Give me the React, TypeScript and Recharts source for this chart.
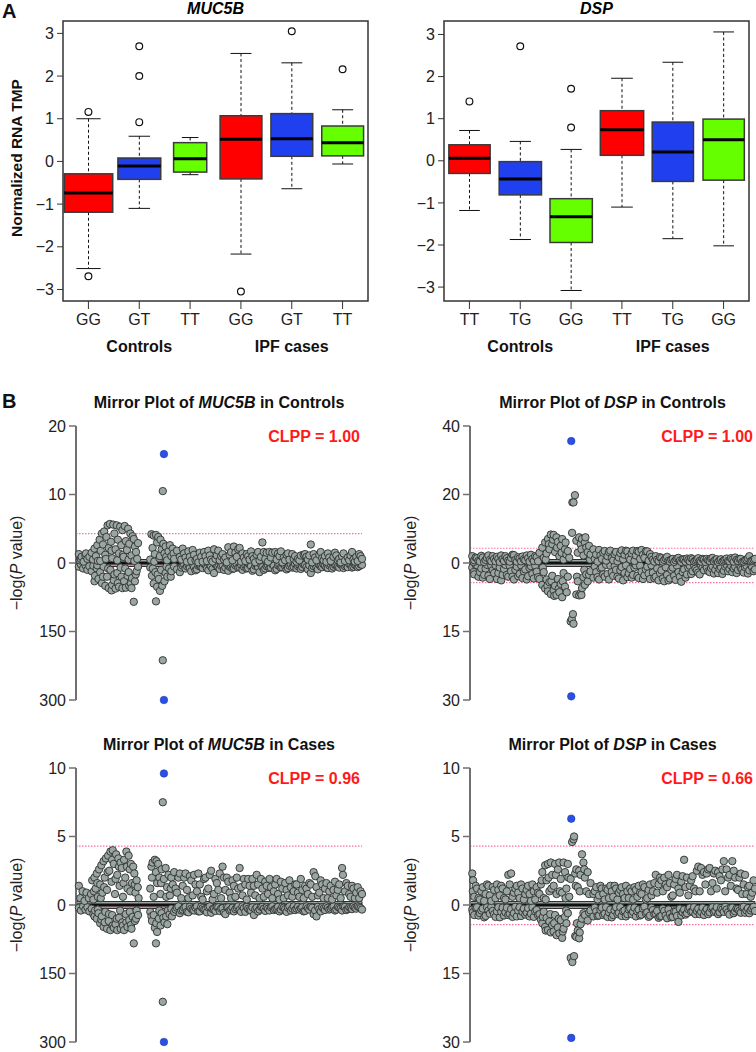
import React from "react";
import {
  ComposedChart,
  ScatterChart,
  Bar,
  Scatter,
  XAxis,
  YAxis,
  ReferenceArea,
  ReferenceLine,
} from "recharts";

const FONT = "'Liberation Sans', Arial, Helvetica, sans-serif";

const COLORS = {
  red: "#ff0000",
  blue: "#2040f0",
  green: "#66ff00",
  point: "#99a6a1",
  pointEdge: "#2f2f2f",
  lead: "#2a50e8",
  clpp: "#ff1a1a",
  axis: "#707070",
  threshold: "#ff6f98",
};

const BOX_COLORS = [COLORS.red, COLORS.blue, COLORS.green];

// ---------- panel A: expression by genotype ----------
const GROUPS = ["Controls", "IPF cases"];

const MUC5B_GENOTYPES = ["GG", "GT", "TT", "GG", "GT", "TT"];
const MUC5B_LOW = [-2.51, -1.1, -0.31, -2.17, -0.64, -0.06];
const MUC5B_Q1 = [-1.19, -0.42, -0.25, -0.41, 0.12, 0.13];
const MUC5B_MEDIAN = [-0.74, -0.11, 0.06, 0.52, 0.53, 0.44];
const MUC5B_Q3 = [-0.29, 0.08, 0.44, 1.07, 1.12, 0.83];
const MUC5B_HIGH = [1.0, 0.59, 0.56, 2.53, 2.31, 1.21];
const MUC5B_OUTLIERS = [[1.16, -2.69], [2.7, 2.0, 0.92], [], [-3.05], [3.05], [2.16]];

const DSP_GENOTYPES = ["TT", "TG", "GG", "TT", "TG", "GG"];
const DSP_LOW = [-1.18, -1.87, -3.08, -1.1, -1.85, -2.02];
const DSP_Q1 = [-0.3, -0.81, -1.94, 0.13, -0.49, -0.46];
const DSP_MEDIAN = [0.06, -0.43, -1.33, 0.74, 0.21, 0.5];
const DSP_Q3 = [0.38, -0.02, -0.9, 1.19, 0.92, 0.99];
const DSP_HIGH = [0.72, 0.46, 0.27, 1.96, 2.34, 3.06];
const DSP_OUTLIERS = [[1.41], [2.72], [1.71, 0.79], [], [], []];

// box widths relative to the category band (varwidth look)
const MUC5B_BOX_FRAC = [0.95, 0.84, 0.65, 0.82, 0.82, 0.82];
const DSP_BOX_FRAC = [0.81, 0.83, 0.83, 0.85, 0.81, 0.81];

// ---------- panel B: mirror plots, [position %, -log P] ----------
const MUC5B_CTRL_GWAS: [number, number][] = [
  [0.5, 1.3], [0.8, 0.4], [1.2, 0.6], [1.5, 0.9], [2.2, 0.2], [2.8, 1.1], [3, 1.4], [3.5, 0.6], [4.2, 0.9],
  [5, 1.5], [5.5, 0.5], [6, 2.1], [6.5, 1.0], [7, 2.6], [7.2, 0.3], [7.8, 3.4], [8, 0.3], [8.2, 1.8],
  [8.6, 4.3], [9, 2.7], [9.4, 4.6], [9.8, 1.2], [10, 0.6], [10.2, 3.8], [10.6, 5.5], [11, 2.2], [11.4, 5.7],
  [11.8, 3.1], [12, 1.8], [12.2, 0.7], [12.6, 5.6], [13, 4.3], [13.4, 2.0], [13.8, 5.5], [14, 0.4], [14.2, 3.4],
  [14.6, 1.4], [15, 5.3], [15.4, 2.6], [15.8, 4.8], [16, 1.2], [16.2, 0.9], [16.6, 5.4], [17, 3.2],
  [17.4, 1.9], [17.8, 5.0], [18, 0.5], [18.2, 2.8], [18.6, 4.3], [19, 1.1], [19.4, 3.9], [19.8, 3.5],
  [20, 0.3], [20.2, 2.4], [20.6, 1.6], [21, 0.6], [21.3, 2.9],
  [25.6, 0.5], [26, 4.2], [26.4, 2.2], [26.8, 4.0], [27, 0.2], [27.2, 1.3], [27.6, 4.1], [28, 3.0],
  [28.4, 3.8], [28.8, 0.7], [29, 1.0], [29.2, 3.4], [29.6, 2.0], [30, 10.5], [30.2, 2.8], [30.6, 1.4],
  [31, 2.4], [31.2, 0.9], [31.5, 0.4], [32, 1.7], [32.5, 2.6], [33, 1.0], [33.5, 2.1], [33.8, 1.4],
  [34, 0.6], [35, 1.8], [36, 0.9],
  [36.5, 0.5], [37, 2.1], [37.5, 1.4], [38, 0.8], [38.5, 0.2], [39, 1.7], [39.5, 0.9], [40, 0.3],
  [40.5, 1.9], [41, 1.2], [41.5, 0.4], [42, 0.6], [42.5, 0.1], [43, 1.5], [43.5, 0.9], [44, 0.2],
  [44.5, 1.6], [45, 1.0], [45.5, 0.3], [46, 1.8], [46.5, 1.1], [47, 0.5], [47.5, 0.2], [48, 2.0],
  [48.5, 0.6], [49, 1.1], [49.5, 1.8], [50, 0.4], [50.5, 1.0], [51, 1.3], [51.5, 0.5], [52, 0.8],
  [52.5, 0.1], [53, 2.3], [53.5, 1.2], [54, 1.6], [54.5, 0.4], [55, 2.4], [55.5, 1.5], [56, 0.9],
  [56.5, 2.0], [57, 2.2], [57.5, 0.2], [58, 1.4], [58.5, 0.8], [59, 0.3], [59.5, 1.3], [60, 1.0],
  [60.5, 0.5], [61, 1.7], [61.5, 1.0], [62, 0.6], [62.5, 0.1], [63, 1.2], [63.5, 1.6], [64, 0.4],
  [64.5, 0.9], [65, 3.0], [65.5, 1.6], [66, 0.6], [66.5, 1.5], [67, 0.2], [67.5, 1.6], [68, 0.8],
  [68.5, 1.5], [69.5, 1.6], [70, 0.5], [70.5, 1.4], [71, 1.0], [71.5, 1.7], [72, 0.1], [72.5, 0.8],
  [73, 0.4], [73.5, 1.2], [74, 1.4], [74.5, 0.5], [75.5, 1.3], [76, 0.6], [76.5, 1.0], [77, 0.2],
  [77.5, 0.6], [78, 0.4], [78.5, 1.1], [79.5, 1.2], [80, 1.3], [80.5, 0.9], [81, 0.5], [81.5, 1.1],
  [82, 2.7], [82.5, 0.1], [83, 1.3], [83.5, 0.8], [84, 0.4], [85, 1.2], [85.5, 1.6], [86, 0.7],
  [86.5, 0.4], [87, 1.0], [87.5, 0.2], [88, 1.4], [88.5, 0.8], [89, 0.3], [90, 0.9], [90.5, 1.5],
  [91, 1.1], [91.5, 0.4], [92, 0.6], [92.5, 0.1], [93, 1.0], [93.5, 1.4], [94, 0.3], [95, 0.8],
  [95.5, 0.4], [96, 1.1], [96.5, 1.6], [97, 0.5], [97.5, 0.2], [98, 0.9], [98.5, 0.3], [99, 1.3],
  [99.5, 1.0], [100, 0.6],
];
const MUC5B_CTRL_EQTL: [number, number][] = [
  [0.5, 8], [1.2, 3], [2, 12], [2.8, 5], [3.5, 15], [4.2, 7],
  [5, 18], [5.6, 6], [6, 40], [6.2, 28], [6.8, 12], [7, 5], [7.4, 35], [8, 20], [8.6, 44], [9, 30],
  [9.2, 8], [9.8, 50], [10.4, 30], [10.8, 12], [11, 55], [11.6, 15], [12, 60], [12.2, 48], [12.8, 38],
  [13, 25], [13.4, 56], [14, 22], [14.2, 44], [14.6, 52], [15.2, 10], [15.5, 30], [15.8, 55],
  [16.4, 40], [16.8, 12], [17, 54], [17.6, 28], [18, 20], [18.2, 50], [18.8, 45], [19, 55],
  [19.2, 33], [19.8, 85], [20.2, 40], [20.5, 25], [20.8, 18], [21.3, 8],
  [25.6, 10], [26.2, 28], [26.5, 12], [26.8, 45], [27.4, 20], [27.6, 84], [28, 52], [28.2, 25],
  [28.6, 35], [29, 61], [29.4, 15], [29.8, 50], [30, 213], [30.6, 40], [31, 22], [31.3, 8],
  [31.6, 30], [32.2, 12], [32.8, 30], [33, 18], [34, 8], [35, 14],
  [36, 20], [36.5, 10], [37, 6], [37.5, 3], [38, 12], [38.5, 7], [39, 4], [39.5, 11], [40, 18],
  [40.5, 2], [41, 9], [41.5, 16], [42, 14], [42.5, 6], [43, 5], [43.5, 9], [44, 11], [44.5, 2],
  [45, 3], [45.5, 12], [46, 16], [46.5, 4], [47, 8], [47.5, 13], [48, 22], [48.5, 3], [49, 6],
  [49.5, 9], [50, 13], [50.5, 6], [51, 4], [51.5, 15], [52, 10], [52.5, 2], [53, 17], [53.5, 8],
  [54, 7], [54.5, 13], [55, 12], [55.5, 5], [56, 3], [56.5, 10], [57, 9], [57.5, 4], [58, 15],
  [58.5, 8], [59, 5], [59.5, 12], [60, 11], [60.5, 3], [61, 7], [61.5, 17], [62, 14], [62.5, 6],
  [63, 4], [63.5, 9], [64, 20], [64.5, 3], [65, 9], [65.5, 15], [66, 12], [66.5, 7], [67, 5],
  [67.5, 11], [68, 10], [68.5, 3], [69, 6], [69.5, 16], [70, 13], [70.5, 5], [71, 4], [71.5, 10],
  [72, 9], [72.5, 3], [73, 7], [73.5, 14], [74, 11], [74.5, 6], [75, 3], [75.5, 10], [76, 8],
  [76.5, 2], [77, 12], [77.5, 7], [78, 5], [78.5, 13], [79, 9], [79.5, 3], [80, 4], [80.5, 9],
  [81, 14], [81.5, 5], [82, 22], [82.5, 11], [83, 7], [83.5, 3], [84, 10], [84.5, 14], [85, 4],
  [85.5, 7], [86, 9], [86.5, 3], [87, 6], [87.5, 10], [88, 11], [88.5, 5], [89, 3], [89.5, 12],
  [90, 8], [90.5, 4], [91, 5], [91.5, 8], [92, 10], [92.5, 3], [93, 4], [93.5, 11], [94, 7],
  [94.5, 5], [95, 9], [95.5, 2], [96, 3], [96.5, 10], [97, 8], [97.5, 4], [98, 5], [98.5, 9],
  [99, 7], [99.5, 3], [100, 4],
];
const MUC5B_CTRL_LEAD = [30.4, 15.9, 300];

const DSP_CTRL_GWAS: [number, number][] = [
  [0.3, 2.0], [0.8, 0.3], [1, 0.8], [1.5, 1.6], [2, 1.4], [2.5, 0.6], [3, 0.4], [3.5, 2.1], [4, 1.6],
  [4.5, 0.3], [5, 0.9], [5.5, 1.5], [6, 2.2], [6.5, 0.9], [7, 0.5], [7.5, 2.0], [8, 1.2], [8.5, 0.5],
  [9, 1.8], [9.5, 1.2], [10, 0.3], [10.5, 2.2], [11, 1.1], [11.5, 0.6], [12, 2.0], [12.5, 1.4],
  [13, 0.7], [13.5, 0.4], [14, 1.5], [14.5, 2.4], [15, 2.3], [15.5, 0.9], [16, 0.4], [16.5, 1.7],
  [17, 1.3], [17.5, 0.5], [18, 1.9], [18.5, 1.1], [19, 0.8], [19.5, 2.2], [20, 1.4], [20.5, 0.4],
  [21, 2.4], [21.5, 1.2], [22, 0.6], [22.5, 2.0], [23, 1.7], [23.5, 0.5],
  [24, 3.0], [25, 4.5], [25.5, 1.5], [26, 6.0], [26.2, 1.0], [26.5, 2.8], [27, 7.0], [27.3, 5.5],
  [27.5, 4.0], [28, 8.3], [28.5, 5.5], [28.8, 6.8], [29, 8.2], [29.5, 3.2], [30, 7.5], [30.2, 4.5],
  [30.5, 6.2], [31, 2.0], [31.5, 5.0], [31.8, 3.0], [32, 7.0], [32.5, 1.0], [33, 4.0], [33.2, 6.0],
  [33.5, 2.5], [34, 3.5], [34.5, 1.5], [35.5, 8.8], [35.6, 17.7], [36, 17.7], [36.5, 19.8],
  [37, 6.5], [37.5, 3.0], [38, 7.5], [38.5, 5.5], [38.8, 4.0], [39, 7.0], [39.5, 2.2], [40, 6.0],
  [40.2, 7.5], [40.5, 4.5], [41, 3.2], [41.5, 5.0], [41.8, 1.0], [42, 2.5], [43, 4.0],
  [43.5, 1.2], [44, 2.5], [44.5, 0.4], [45, 3.8], [45.5, 2.2], [46, 1.2], [46.5, 3.0], [47, 3.5],
  [47.5, 0.7], [48, 2.0], [48.5, 3.2], [49, 3.6], [49.5, 1.4], [50, 0.8], [50.5, 2.6], [51, 3.2],
  [51.5, 0.5], [52, 1.6], [52.5, 2.9], [53, 3.7], [53.5, 1.1], [54, 2.4], [54.5, 3.6], [55, 3.4],
  [55.5, 1.8], [56, 1.0], [56.5, 2.8], [57, 3.6], [57.5, 0.6], [58, 2.2], [58.5, 3.5], [59, 3.3],
  [59.5, 1.2], [60, 3.8], [60.5, 2.4], [61, 1.5], [61.5, 3.4], [62, 3.4], [62.5, 0.7], [63, 2.6],
  [63.5, 1.8], [64, 1.0], [64.5, 0.4], [65, 2.0], [65.5, 1.0], [66, 0.6], [66.5, 1.7], [67, 1.4],
  [67.5, 0.4], [68, 0.9], [68.5, 1.4], [69, 1.8], [69.5, 0.6], [70, 0.4], [70.5, 1.0], [71, 1.2],
  [71.5, 0.3], [72, 0.8], [72.5, 1.3], [73, 1.5], [73.5, 0.7], [74, 0.3], [74.5, 1.1], [75, 1.0],
  [75.5, 0.4], [76, 1.3], [76.5, 0.9], [77, 0.5], [77.5, 1.4], [78, 1.1], [78.5, 0.4], [79, 0.7],
  [79.5, 1.0], [80, 1.4], [80.5, 0.6], [81, 0.4], [81.5, 1.2], [82, 1.0], [82.5, 0.3], [83, 1.2],
  [83.5, 0.8], [84, 0.6], [84.5, 1.3], [85, 1.5], [85.5, 0.5], [86, 0.9], [86.5, 1.1], [87, 0.3],
  [87.5, 0.8], [88, 1.1], [88.5, 0.4], [89, 0.7], [89.5, 1.0], [90, 1.3], [90.5, 0.6], [91, 0.5],
  [91.5, 1.4], [92, 1.0], [92.5, 0.4], [93, 1.6], [93.5, 0.9], [94, 0.6], [94.5, 1.2], [95, 1.2],
  [95.5, 0.3], [96, 0.4], [96.5, 0.8], [97, 1.0], [97.5, 1.4], [98, 2.0], [98.5, 0.5], [99, 0.7],
  [99.5, 1.0], [100, 1.2],
];
const DSP_CTRL_EQTL: [number, number][] = [
  [0.3, 1.0], [0.8, 2.0], [1, 2.5], [1.5, 0.4], [2, 0.5], [2.5, 3.0], [3, 2.0], [3.5, 1.2], [4, 3.2],
  [4.5, 2.6], [5, 1.2], [5.5, 0.4], [6, 2.8], [6.5, 3.5], [7, 0.6], [7.5, 1.6], [8, 2.2], [8.5, 0.5],
  [9, 3.5], [9.5, 2.2], [10, 1.0], [10.5, 3.8], [11, 2.6], [11.5, 1.3], [12, 0.4], [12.5, 2.6],
  [13, 3.0], [13.5, 0.6], [14, 1.8], [14.5, 3.0], [15, 3.6], [15.5, 1.5], [16, 0.8], [16.5, 2.9],
  [17, 2.4], [17.5, 0.5], [18, 3.3], [18.5, 1.8], [19, 1.4], [19.5, 3.6], [20, 2.9], [20.5, 1.1],
  [21, 0.7], [21.5, 2.4], [22, 3.4], [22.5, 0.6], [23, 1.9], [23.5, 3.1],
  [24, 3.5], [25, 4.8], [25.2, 1.0], [25.5, 2.0], [26, 5.6], [26.5, 3.6], [26.8, 5.0], [27, 6.2],
  [27.5, 4.2], [28, 6.8], [28.2, 4.0], [28.5, 2.8], [29, 6.0], [29.2, 7.2], [29.5, 5.0], [30, 7.0],
  [30.5, 3.5], [30.8, 5.6], [31, 6.4], [31.5, 4.6], [32, 7.5], [32.2, 4.0], [32.5, 2.2], [33, 5.2],
  [33.6, 6.4], [34, 3.0], [35, 12.8], [35.4, 12.3], [35.8, 11.2], [36, 13.3], [37, 6.9],
  [37.2, 3.0], [37.5, 4.0], [38, 7.1], [38.5, 6.6], [38.8, 7.0], [39, 5.5], [39.5, 3.1],
  [39.8, 1.5], [40, 4.8], [40.5, 2.5], [41, 4.0], [41.5, 2.6], [42, 1.8], [43, 3.2],
  [43.5, 0.8], [44, 2.0], [44.5, 3.1], [45, 3.6], [45.5, 1.2], [46, 1.0], [46.5, 2.5], [47, 3.0],
  [47.5, 0.4], [48, 2.4], [48.5, 3.6], [49, 0.6], [49.5, 2.0], [50, 2.8], [50.5, 0.7], [51, 1.5],
  [51.5, 3.0], [52, 3.4], [52.5, 1.6], [53, 0.9], [53.5, 3.8], [54, 2.2], [54.5, 0.5], [55, 3.1],
  [55.5, 2.3], [56, 1.3], [56.5, 3.2], [57, 2.6], [57.5, 1.0], [58, 0.5], [58.5, 2.8], [59, 3.3],
  [59.5, 0.6], [60, 1.9], [60.5, 3.5], [61, 2.7], [61.5, 1.4], [62, 0.8], [62.5, 2.3], [63, 3.5],
  [63.5, 0.5], [64, 2.1], [64.5, 3.3], [65, 3.0], [65.5, 1.2], [66, 3.8], [66.5, 2.2], [67, 1.6],
  [67.5, 3.4], [68, 4.0], [68.5, 0.9], [69, 2.6], [69.5, 3.8], [70, 3.4], [70.5, 1.5], [71, 1.0],
  [71.5, 2.8], [72, 3.7], [72.5, 0.6], [73, 2.0], [73.5, 3.0], [74, 4.1], [74.5, 2.0], [75, 1.4],
  [75.5, 3.2], [76, 2.5], [76.5, 1.0], [77, 0.6], [77.5, 2.4], [78, 1.8], [78.5, 0.4], [79, 1.2],
  [79.5, 1.6], [80, 2.1], [80.5, 2.5], [81, 0.5], [81.5, 1.0], [82, 1.6], [82.5, 0.4], [83, 1.0],
  [83.5, 1.8], [84, 2.0], [84.5, 1.1], [85, 0.7], [85.5, 2.3], [86, 1.5], [86.5, 0.5], [87, 2.2],
  [87.5, 1.3], [88, 0.9], [88.5, 2.4], [89, 1.7], [89.5, 0.8], [90, 0.4], [90.5, 1.8], [91, 1.3],
  [91.5, 0.5], [92, 2.0], [92.5, 1.2], [93, 0.8], [93.5, 2.2], [94, 1.5], [94.5, 0.4], [95, 1.1],
  [95.5, 1.4], [96, 2.1], [96.5, 0.9], [97, 0.6], [97.5, 2.3], [98, 1.6], [98.5, 0.5], [99, 0.9],
  [99.5, 1.8], [100, 1.4],
];
const DSP_CTRL_LEAD = [35.2, 35.6, 29.2];

const MUC5B_CASE_GWAS: [number, number][] = [
  [0.5, 1.4], [1, 0.5], [1.8, 1.0], [2.5, 0.3], [3.2, 0.9], [4, 0.5],
  [4.8, 0.8], [5.2, 1.8], [5.6, 0.4], [5.8, 1.0], [6, 2.0], [6.4, 1.2], [6.8, 2.3], [7, 1.6],
  [7.2, 0.6], [7.6, 2.6], [8, 1.5], [8.2, 0.5], [8.4, 2.9], [8.8, 0.9], [9.2, 3.2], [9.4, 1.3],
  [9.6, 2.0], [10, 3.4], [10.4, 1.1], [10.6, 2.4], [10.8, 3.6], [11.2, 2.5], [11.6, 3.9], [12, 1.7],
  [12.2, 3.3], [12.4, 4.0], [12.8, 3.0], [13.2, 0.8], [13.4, 1.9], [13.6, 3.7], [14, 2.2],
  [14.4, 3.4], [14.6, 2.8], [14.8, 1.4], [15.2, 3.1], [15.6, 2.7], [16, 0.6], [16.2, 1.6],
  [16.4, 3.3], [16.8, 2.0], [17.2, 3.9], [17.4, 2.8], [17.6, 1.2], [18, 3.6], [18.4, 2.6],
  [18.6, 1.0], [18.8, 3.0], [19.2, 1.6], [19.6, 2.8], [20, 2.3], [20.2, 1.5], [20.4, 0.9],
  [20.8, 1.8], [21.2, 1.3], [21.5, 0.5],
  [25.6, 1.2], [26, 2.8], [26.2, 2.0], [26.4, 3.1], [26.8, 0.6], [27.2, 3.3], [27.6, 2.4],
  [27.8, 3.2], [28, 1.6], [28.4, 3.0], [28.8, 2.0], [29.2, 0.8], [29.4, 1.6], [29.6, 2.6],
  [30, 7.5], [30.4, 1.9], [31, 2.7], [31.2, 0.6], [31.5, 1.3], [32, 2.2], [32.5, 0.7], [32.8, 1.2],
  [33, 2.0], [33.5, 1.5],
  [34, 2.4], [34.5, 1.2], [35, 0.9], [35.5, 2.0], [36, 2.3], [36.5, 0.5], [37, 1.4], [37.5, 2.0],
  [38, 2.3], [38.5, 1.1], [39, 0.5], [39.5, 2.1], [40, 1.8], [40.5, 0.7], [41, 2.2], [41.5, 1.5],
  [42, 1.0], [42.5, 2.3], [43, 1.5], [43.5, 0.6], [44, 0.4], [44.5, 1.9], [45, 2.0], [45.5, 1.0],
  [46, 1.2], [46.5, 2.2], [47, 2.5], [47.5, 0.4], [48, 0.8], [48.5, 1.9], [49, 1.6], [49.5, 1.1],
  [50, 2.3], [50.5, 0.5], [51, 2.8], [51.5, 2.0], [52, 1.1], [52.5, 2.0], [53, 1.7], [53.5, 0.9],
  [54, 0.5], [54.5, 1.8], [55, 1.4], [55.5, 0.6], [56, 2.0], [56.5, 1.2], [57, 2.7], [57.5, 1.3],
  [58, 0.7], [58.5, 1.9], [59, 1.5], [59.5, 0.4], [60, 1.9], [60.5, 1.4], [61, 0.9], [61.5, 1.9],
  [62, 1.4], [62.5, 0.7], [63, 2.2], [63.5, 1.5], [64, 0.5], [64.5, 1.9], [65, 1.2], [65.5, 0.6],
  [66, 1.7], [66.5, 1.4], [67, 0.8], [67.5, 1.9], [68, 1.3], [68.5, 0.5], [69, 1.0], [69.5, 1.5],
  [70, 1.9], [70.5, 0.8], [71, 0.4], [71.5, 1.7], [72, 1.2], [72.5, 0.5], [73, 1.6], [73.5, 1.1],
  [74, 0.7], [74.5, 1.8], [75, 1.3], [75.5, 0.6], [76, 1.0], [76.5, 1.5], [77, 1.5], [77.5, 0.9],
  [78, 0.6], [78.5, 1.9], [79, 1.1], [79.5, 0.5], [80, 1.4], [80.5, 1.2], [81, 0.8], [81.5, 1.6],
  [82, 1.5], [82.5, 0.6], [83, 2.4], [83.6, 2.1], [84, 1.3], [84.5, 0.7], [85, 0.9], [85.5, 1.8],
  [86, 1.5], [86.5, 0.5], [87, 1.2], [87.5, 1.6], [88, 0.5], [88.5, 1.0], [89, 1.4], [89.5, 0.4],
  [90, 1.1], [90.5, 1.7], [91, 0.7], [91.5, 1.1], [92, 1.5], [92.5, 0.5], [93, 2.7], [93.3, 2.2],
  [94, 1.0], [94.5, 1.6], [95, 1.4], [95.5, 0.8], [96, 0.6], [96.5, 1.4], [97, 1.2], [97.5, 0.5],
  [98, 0.9], [98.5, 1.3], [99, 0.5], [99.5, 1.0], [100, 0.8],
];
const MUC5B_CASE_EQTL: [number, number][] = [
  [0.5, 6], [1.2, 12], [2, 3], [2.8, 10], [3.5, 5], [4.2, 14],
  [5, 8], [5.6, 20], [6, 25], [6.2, 12], [6.8, 30], [7.2, 10], [7.4, 18], [8, 40], [8.4, 32],
  [8.6, 25], [9.2, 48], [9.6, 38], [9.8, 15], [10.4, 52], [11, 35], [11.1, 20], [11.6, 55],
  [12.2, 22], [12.4, 45], [12.8, 50], [13.4, 42], [13.8, 30], [14, 55], [14.6, 28], [15, 12],
  [15.2, 52], [15.8, 38], [16, 45], [16.4, 55], [17, 20], [17.2, 38], [17.6, 48], [18.2, 33],
  [18.4, 15], [18.8, 44], [19, 52], [19.4, 26], [19.8, 84], [20.2, 35], [20.6, 30], [20.8, 12],
  [21.3, 22],
  [25.6, 15], [26, 25], [26.2, 35], [26.8, 22], [27.2, 50], [27.6, 84], [27.7, 40], [28, 59],
  [28.6, 30], [28.8, 12], [29.2, 45], [29.6, 18], [30, 212], [30.2, 28], [30.6, 38], [31.2, 25],
  [31.6, 42], [31.8, 12], [32.4, 20], [33, 8], [33.2, 25],
  [34, 15], [34.5, 10], [35, 6], [35.5, 3], [36, 18], [36.5, 12], [37, 10], [37.5, 6], [38, 4],
  [38.5, 15], [39, 16], [39.5, 4], [40, 8], [40.5, 11], [41, 12], [41.5, 6], [42, 3], [42.5, 14],
  [43, 14], [43.5, 4], [44, 7], [44.5, 10], [45, 11], [45.5, 16], [46, 5], [46.5, 3], [47, 17],
  [47.5, 9], [48, 9], [48.5, 13], [49, 4], [49.5, 5], [50, 13], [50.5, 8], [51, 7], [51.5, 17],
  [52, 20], [52.5, 4], [53, 5], [53.5, 12], [54, 10], [54.5, 6], [55, 14], [55.5, 9], [56, 6],
  [56.5, 3], [57, 11], [57.5, 15], [58, 3], [58.5, 7], [59, 15], [59.5, 4], [60, 8], [60.5, 11],
  [61, 12], [61.5, 5], [62, 22], [62.5, 9], [63, 6], [63.5, 14], [64, 10], [64.5, 4], [65, 4],
  [65.5, 8], [66, 13], [66.5, 5], [67, 8], [67.5, 12], [68, 5], [68.5, 3], [69, 11], [69.5, 9],
  [70, 7], [70.5, 4], [71, 14], [71.5, 10], [72, 4], [72.5, 6], [73, 9], [73.5, 15], [74, 6],
  [74.5, 3], [75, 12], [75.5, 8], [76, 3], [76.5, 11], [77, 8], [77.5, 4], [78, 10], [78.5, 7],
  [79, 5], [79.5, 14], [80, 13], [80.5, 3], [81, 7], [81.5, 10], [82, 4], [82.5, 6], [83, 20],
  [83.5, 12], [84, 25], [84.5, 4], [85, 9], [85.5, 14], [86, 5], [86.5, 8], [87, 11], [87.5, 3],
  [88, 6], [88.5, 10], [89, 8], [89.5, 5], [90, 3], [90.5, 12], [91, 10], [91.5, 4], [92, 6],
  [92.5, 8], [93, 12], [93.5, 3], [94, 4], [94.5, 11], [95, 9], [95.5, 5], [96, 7], [96.5, 9],
  [97, 3], [97.5, 6], [98, 8], [98.5, 3], [99, 5], [99.5, 7], [100, 10],
];
const MUC5B_CASE_LEAD = [30.4, 9.6, 300];

const DSP_CASE_GWAS: [number, number][] = [
  [0.3, 2.3], [0.5, 1.0], [0.6, 1.8], [1, 0.6], [1.5, 1.4], [2, 1.2], [2.5, 0.5], [3, 0.4],
  [3.5, 1.0], [4, 1.3], [4.5, 0.3], [5, 0.8], [5.5, 1.5], [6, 1.4], [6.5, 0.7], [7, 0.3],
  [7.5, 1.3], [8, 1.1], [8.5, 0.5], [9, 1.5], [9.5, 1.1], [10, 0.7], [10.5, 1.4], [11, 1.2],
  [11.5, 0.5], [12, 0.4], [12.5, 1.0], [13, 2.2], [13.5, 1.5], [14, 2.3], [14.5, 0.6], [15, 0.9],
  [15.5, 1.2], [16, 1.4], [16.5, 0.9], [17, 0.5], [17.5, 1.5], [18, 1.2], [18.5, 0.4], [19, 0.8],
  [19.5, 1.1], [20, 1.4], [20.5, 0.8], [21, 0.3], [21.5, 1.5], [22, 1.0], [22.5, 0.4], [23, 1.3],
  [23.5, 0.9],
  [24, 0.8], [24.5, 1.5], [24.8, 1.8], [25, 2.4], [25.5, 0.5], [26, 2.9], [26.2, 0.4], [26.5, 1.8],
  [27, 3.0], [27.2, 2.0], [27.5, 1.0], [28, 3.1], [28.2, 1.2], [28.5, 2.2], [29, 1.4], [29.5, 3.0],
  [29.8, 2.2], [30, 0.8], [30.5, 2.6], [31, 3.1], [31.2, 1.0], [31.5, 1.9], [32, 0.9], [32.5, 3.1],
  [33, 2.4], [33.2, 0.5], [33.5, 1.2], [34, 3.0], [34.2, 2.0], [34.5, 0.6], [35, 1.9], [35.5, 4.6],
  [36, 4.8], [36.2, 5.0], [36.6, 2.3], [36.8, 1.4], [37, 2.6], [37.5, 1.3], [38, 2.5], [38.2, 1.0],
  [38.5, 2.2], [39, 3.7], [39.5, 3.1], [39.8, 2.6], [40, 2.0], [40.5, 1.0], [41, 2.4], [41.5, 0.8],
  [42, 1.6], [43, 0.8],
  [43.5, 1.0], [44, 1.3], [44.5, 0.4], [45, 0.7], [45.5, 1.4], [46, 1.2], [46.5, 0.8], [47, 0.4],
  [47.5, 1.2], [48, 1.1], [48.5, 0.5], [49, 1.4], [49.5, 1.0], [50, 0.6], [50.5, 1.4], [51, 1.2],
  [51.5, 0.4], [52, 0.9], [52.5, 1.1], [53, 1.3], [53.5, 0.8], [54, 0.5], [54.5, 1.4], [55, 1.0],
  [55.5, 0.5], [56, 1.2], [56.5, 1.0], [57, 0.4], [57.5, 1.3], [58, 1.1], [58.5, 0.6], [59, 1.4],
  [59.5, 0.9], [60, 0.8], [60.5, 1.5], [61, 1.3], [61.5, 0.4], [62, 0.5], [62.5, 1.1], [63, 1.5],
  [63.5, 0.7], [64, 1.0], [64.5, 1.6], [65, 2.2], [65.5, 0.9], [66, 1.5], [66.5, 2.0], [67, 1.8],
  [67.5, 1.0], [68, 2.0], [68.5, 1.5], [69, 1.3], [69.5, 2.2], [70, 1.6], [70.5, 0.6], [71, 0.7],
  [71.5, 1.5], [72, 1.9], [72.5, 2.2], [73, 1.2], [73.5, 0.9], [74, 1.7], [74.5, 2.1], [75, 3.3],
  [75.5, 1.3], [76, 2.0], [76.5, 0.7], [77, 1.4], [77.5, 1.8], [78, 2.1], [78.5, 1.2], [79, 1.0],
  [79.5, 2.5], [80, 2.8], [80.5, 1.0], [81, 2.7], [81.5, 2.2], [82, 2.4], [82.5, 1.5], [83, 2.3],
  [83.5, 2.6], [84, 2.7], [84.5, 1.0], [85, 1.6], [85.5, 2.3], [86, 2.5], [86.5, 1.2], [87, 2.4],
  [87.5, 2.1], [88, 1.8], [88.5, 2.6], [89, 3.2], [89.5, 1.0], [90, 2.6], [90.5, 2.0], [91, 2.2],
  [91.5, 1.4], [92, 3.2], [92.5, 2.5], [93, 2.0], [93.5, 1.2], [94, 1.1], [94.5, 2.0], [95, 2.3],
  [95.5, 0.8], [96, 1.5], [96.5, 2.2], [97, 0.8], [97.5, 1.3], [98, 1.4], [98.5, 0.6], [99, 0.9],
  [99.5, 1.8], [100, 1.2],
];
const DSP_CASE_EQTL: [number, number][] = [
  [0.3, 1.0], [0.5, 1.6], [1, 2.2], [1.5, 0.6], [2, 0.5], [2.5, 2.3], [3, 1.8], [3.5, 1.2],
  [4, 0.8], [4.5, 2.7], [5, 2.4], [5.5, 0.5], [6, 1.2], [6.5, 1.9], [7, 0.4], [7.5, 1.3], [8, 2.0],
  [8.5, 2.6], [9, 1.4], [9.5, 0.5], [10, 2.7], [10.5, 1.5], [11, 0.6], [11.5, 2.3], [12, 1.6],
  [12.5, 0.6], [13, 2.2], [13.5, 1.9], [14, 0.9], [14.5, 2.6], [15, 1.8], [15.5, 0.4], [16, 2.5],
  [16.5, 1.2], [17, 0.5], [17.5, 2.4], [18, 1.5], [18.5, 0.8], [19, 2.1], [19.5, 1.7], [20, 0.7],
  [20.5, 2.5], [21, 1.9], [21.5, 0.5], [22, 2.6], [22.5, 1.4], [23, 1.1], [23.5, 2.2],
  [24, 2.0], [24.5, 3.2], [25, 4.0], [25.2, 2.6], [25.5, 1.5], [26, 4.8], [26.2, 5.6], [26.5, 2.8],
  [27, 5.5], [27.5, 3.6], [27.8, 2.0], [28, 6.0], [28.5, 4.4], [29, 5.8], [29.2, 4.0], [29.5, 2.2],
  [30, 6.6], [30.5, 4.9], [30.8, 3.0], [31, 6.2], [31.5, 3.3], [32, 7.2], [32.2, 5.8], [32.5, 5.2],
  [33, 2.6], [33.4, 1.2], [33.5, 4.0], [34, 1.8], [35, 11.6], [35.6, 12.5], [36.2, 11.2],
  [36.6, 6.8], [37, 7.0], [37.2, 4.0], [37.5, 5.6], [38, 7.3], [38.2, 6.0], [38.5, 4.2], [39, 3.0],
  [39.5, 1.8], [40, 2.2], [41, 3.4], [41.5, 1.6], [42, 1.2], [43, 2.5],
  [43.5, 0.6], [44, 1.4], [44.5, 2.4], [45, 2.3], [45.5, 1.1], [46, 0.6], [46.5, 2.2], [47, 1.9],
  [47.5, 0.5], [48, 2.6], [48.5, 1.6], [49, 1.0], [49.5, 2.7], [50, 2.2], [50.5, 1.2], [51, 0.5],
  [51.5, 2.0], [52, 1.7], [52.5, 0.5], [53, 2.4], [53.5, 1.4], [54, 1.2], [54.5, 2.5], [55, 2.0],
  [55.5, 1.0], [56, 0.7], [56.5, 2.0], [57, 1.5], [57.5, 0.6], [58, 2.5], [58.5, 1.4], [59, 1.0],
  [59.5, 2.3], [60, 2.1], [60.5, 0.8], [61, 0.4], [61.5, 1.8], [62, 1.6], [62.5, 2.6], [63, 2.3],
  [63.5, 0.6], [64, 1.1], [64.5, 2.0], [65, 1.9], [65.5, 1.3], [66, 2.8], [66.5, 2.5], [67, 2.4],
  [67.5, 0.8], [68, 1.3], [68.5, 2.3], [69, 2.9], [69.5, 1.0], [70, 2.0], [70.5, 2.7], [71, 2.6],
  [71.5, 1.4], [72, 1.5], [72.5, 2.4], [73, 3.7], [73.5, 0.8], [74, 2.3], [74.5, 1.6], [75, 1.0],
  [75.5, 2.1], [76, 1.8], [76.5, 0.9], [77, 0.6], [77.5, 1.5], [78, 1.4], [78.5, 0.5], [79, 2.0],
  [79.5, 1.3], [80, 0.8], [80.5, 2.0], [81, 1.5], [81.5, 0.6], [82, 2.2], [82.5, 1.4], [83, 0.9],
  [83.5, 2.0], [84, 1.6], [84.5, 0.7], [85, 0.5], [85.5, 1.5], [86, 1.3], [86.5, 0.5], [87, 2.0],
  [87.5, 1.6], [88, 0.7], [88.5, 1.0], [89, 1.5], [89.5, 0.4], [90, 1.0], [90.5, 1.6], [91, 2.1],
  [91.5, 0.6], [92, 0.6], [92.5, 1.8], [93, 1.4], [93.5, 0.8], [94, 0.9], [94.5, 1.3], [95, 1.7],
  [95.5, 0.5], [96, 0.4], [96.5, 1.7], [97, 1.2], [97.5, 0.7], [98, 1.8], [98.5, 1.2], [99, 0.8],
  [99.5, 0.4], [100, 1.3],
];
const DSP_CASE_LEAD = [35.2, 6.3, 29.1];

const THRESHOLD = 4.3;

const minus = (v: number | string) => String(v).replace("-", "\u2212");

// ---------- box plot ----------
function BoxShape(props: any) {
  const { x, y, width, height, payload } = props;
  if (!payload) return null;
  const [lo, hi] = payload.range;
  const top = Math.min(y, y + height);
  const bot = Math.max(y, y + height);
  const py = (v: number) => top + ((hi - v) / (hi - lo)) * (bot - top);
  const cx = x + width / 2;
  const bw = width * payload.frac;
  const fill = BOX_COLORS[payload.idx % 3];
  return (
    <g>
      <line x1={cx} x2={cx} y1={py(hi)} y2={py(payload.q3)} stroke="#111" strokeDasharray="3 2.5" />
      <line x1={cx} x2={cx} y1={py(payload.q1)} y2={py(lo)} stroke="#111" strokeDasharray="3 2.5" />
      <line x1={cx - bw / 4} x2={cx + bw / 4} y1={py(hi)} y2={py(hi)} stroke="#111" />
      <line x1={cx - bw / 4} x2={cx + bw / 4} y1={py(lo)} y2={py(lo)} stroke="#111" />
      <rect
        x={cx - bw / 2}
        y={py(payload.q3)}
        width={bw}
        height={py(payload.q1) - py(payload.q3)}
        fill={fill}
        stroke="#3a3a3a"
        strokeWidth={1.5}
      />
      <line x1={cx - bw / 2} x2={cx + bw / 2} y1={py(payload.med)} y2={py(payload.med)} stroke="#000" strokeWidth={3} />
    </g>
  );
}

const outlierShape = (key: string) => (props: any) => {
  const v = props.payload?.[key];
  if (v === null || v === undefined) return null;
  return <circle cx={props.cx} cy={props.cy} r={3.4} fill="#fff" stroke="#111" strokeWidth={1.2} />;
};

function BoxPanel(props: {
  left: number;
  axisWidth: number;
  domain: [number, number];
  title: string;
  genotypes: string[];
  low: number[];
  q1: number[];
  med: number[];
  q3: number[];
  high: number[];
  outliers: number[][];
  frac: number[];
}) {
  const { left, axisWidth, domain, genotypes } = props;
  const rows = props.low.map((lo, i) => ({
    idx: i,
    range: [lo, props.high[i]],
    q1: props.q1[i],
    med: props.med[i],
    q3: props.q3[i],
    frac: props.frac[i],
    o0: props.outliers[i][0] ?? null,
    o1: props.outliers[i][1] ?? null,
    o2: props.outliers[i][2] ?? null,
  }));
  const plotWidth = 305;
  const GenotypeTick = (p: any) => {
    const i = Number(p.payload.value);
    return (
      <g>
        <text x={p.x} y={p.y + 16} textAnchor="middle" fontSize={16} fill="#222" fontFamily={FONT}>
          {genotypes[i]}
        </text>
        {i % 3 === 1 && (
          <text x={p.x} y={p.y + 43} textAnchor="middle" fontSize={16} fontWeight="bold" fill="#111" fontFamily={FONT}>
            {GROUPS[(i - 1) / 3]}
          </text>
        )}
      </g>
    );
  };
  return (
    <div style={{ position: "absolute", left, top: 0 }}>
      <div
        style={{
          position: "absolute",
          left: axisWidth,
          width: plotWidth,
          top: 0,
          textAlign: "center",
          fontFamily: FONT,
          fontSize: 16,
          fontWeight: "bold",
          fontStyle: "italic",
          lineHeight: "17px",
        }}
      >
        {props.title}
      </div>
      <ComposedChart
        width={axisWidth + plotWidth + 7}
        height={370}
        data={rows}
        margin={{ top: 21, right: 7, bottom: 9, left: 0 }}
        barCategoryGap={0}
        style={{ fontFamily: FONT }}
      >
        <XAxis
          dataKey="idx"
          type="category"
          axisLine={false}
          tickSize={8}
          tickMargin={0}
          interval={0}
          height={60}
          tickLine={{ stroke: "#333" }}
          tick={GenotypeTick}
        />
        <YAxis
          type="number"
          domain={domain}
          ticks={[-3, -2, -1, 0, 1, 2, 3]}
          allowDataOverflow
          width={axisWidth}
          axisLine={false}
          tickSize={6}
          tickMargin={3}
          tickLine={{ stroke: "#333" }}
          tick={{ fontSize: 16, fill: "#222" }}
          tickFormatter={minus}
        />
        <ReferenceArea y1={domain[0]} y2={domain[1]} fill="none" fillOpacity={0} stroke="#333" strokeWidth={1.5} />
        <Bar dataKey="range" shape={BoxShape} isAnimationActive={false} />
        <Scatter dataKey="o0" shape={outlierShape("o0")} isAnimationActive={false} />
        <Scatter dataKey="o1" shape={outlierShape("o1")} isAnimationActive={false} />
        <Scatter dataKey="o2" shape={outlierShape("o2")} isAnimationActive={false} />
      </ComposedChart>
    </div>
  );
}

// ---------- mirror plot ----------
const greyDot = (p: any) => (
  <circle cx={p.cx} cy={p.cy} r={3.7} fill={COLORS.point} stroke={COLORS.pointEdge} strokeWidth={0.9} />
);
const leadDot = (p: any) => <circle cx={p.cx} cy={p.cy} r={3.8} fill={COLORS.lead} stroke="#1a2fa0" strokeWidth={0.5} />;

function MirrorPlot(props: {
  left: number;
  top: number;
  axisX: number;
  plotRight: number;
  topMax: number;
  bottomMax: number;
  gene: string;
  group: string;
  clpp: string;
  gwas: [number, number][];
  eqtl: [number, number][];
  lead: number[];
}) {
  const { left, top, axisX, plotRight, topMax, bottomMax } = props;
  const k = topMax / bottomMax;
  const upper = props.gwas.map(([x, y]) => ({ x, y }));
  const lower = props.eqtl.map(([x, v]) => ({ x, y: -v * k }));
  const lead = [
    { x: props.lead[0], y: props.lead[1] },
    { x: props.lead[0], y: -props.lead[2] * k },
  ];
  const ticks = [-topMax, -topMax / 2, 0, topMax / 2, topMax];
  const tickLabel = (v: number) => (v < 0 ? String(Math.round(-v / k)) : String(v));
  const mt = 26;
  const plotH = 274;
  const width = 378;
  const plotW = plotRight - axisX;
  // half-height of the overlapped zero band, ~3.5 px in data units
  const band = (3.5 / (plotH / 2)) * topMax;
  return (
    <div style={{ position: "absolute", left, top, width, height: 312, fontFamily: FONT }}>
      <div
        style={{
          position: "absolute",
          left: axisX - 20,
          width: plotW + 40,
          top: -6,
          textAlign: "center",
          fontSize: 16,
          fontWeight: "bold",
          color: "#111",
          whiteSpace: "nowrap",
        }}
      >
        Mirror Plot of <i>{props.gene}</i> in {props.group}
      </div>
      <div
        style={{
          position: "absolute",
          right: width - plotRight + 2,
          top: mt + 2,
          fontSize: 16,
          fontWeight: "bold",
          color: COLORS.clpp,
          whiteSpace: "nowrap",
        }}
      >
        CLPP = {props.clpp}
      </div>
      <div
        style={{
          position: "absolute",
          left: axisX - 59,
          top: mt + plotH / 2,
          transform: "translate(-50%, -50%) rotate(-90deg)",
          fontSize: 16,
          color: "#222",
          whiteSpace: "nowrap",
        }}
      >
        {"\u2212log("}
        <i>P</i>
        {" value)"}
      </div>
      <ScatterChart
        width={width}
        height={312}
        margin={{ top: mt, right: width - plotRight, bottom: 312 - mt - plotH, left: 0 }}
        style={{ position: "absolute", left: 0, top: 0 }}
      >
        <XAxis dataKey="x" type="number" domain={[-0.5, 100]} hide />
        <YAxis
          dataKey="y"
          type="number"
          domain={[-topMax, topMax]}
          ticks={ticks}
          width={axisX}
          axisLine={{ stroke: COLORS.axis, strokeWidth: 2 }}
          tickLine={{ stroke: COLORS.axis, strokeWidth: 1.5 }}
          tickSize={7}
          tickMargin={3}
          tick={{ fontSize: 16, fill: "#222", fontFamily: FONT }}
          tickFormatter={tickLabel}
        />
        <ReferenceLine y={THRESHOLD} stroke={COLORS.threshold} strokeDasharray="1.5 1.5" strokeWidth={1.2} />
        <ReferenceLine y={-THRESHOLD * k} stroke={COLORS.threshold} strokeDasharray="1.5 1.5" strokeWidth={1.2} />
        <Scatter data={lower} shape={greyDot} isAnimationActive={false} />
        <Scatter data={upper} shape={greyDot} isAnimationActive={false} />
        <ReferenceArea y1={-band} y2={band} fill={COLORS.point} fillOpacity={1} stroke={COLORS.pointEdge} strokeWidth={1} />
        <ReferenceLine y={0} stroke="#111" strokeWidth={3} />
        <Scatter data={lead} shape={leadDot} isAnimationActive={false} />
      </ScatterChart>
    </div>
  );
}

const panelLetter = (letter: string, top: number) => (
  <div
    style={{
      position: "absolute",
      left: 2,
      top,
      fontFamily: FONT,
      fontSize: 20,
      fontWeight: "bold",
      color: "#111",
    }}
  >
    {letter}
  </div>
);

export default function App() {
  return (
    <div
      style={{
        position: "absolute",
        left: 0,
        top: 0,
        width: 756,
        height: 1052,
        background: "#fff",
        fontFamily: FONT,
        overflow: "hidden",
      }}
    >
      {panelLetter("A", 0)}
      {panelLetter("B", 390)}
      <div
        style={{
          position: "absolute",
          left: 17,
          top: 158,
          transform: "translate(-50%, -50%) rotate(-90deg)",
          fontSize: 15.5,
          fontWeight: "bold",
          whiteSpace: "nowrap",
          color: "#111",
        }}
      >
        Normalized RNA TMP
      </div>
      <BoxPanel
        left={0}
        axisWidth={63}
        domain={[-3.27, 3.29]}
        title="MUC5B"
        genotypes={MUC5B_GENOTYPES}
        low={MUC5B_LOW}
        q1={MUC5B_Q1}
        med={MUC5B_MEDIAN}
        q3={MUC5B_Q3}
        high={MUC5B_HIGH}
        outliers={MUC5B_OUTLIERS}
        frac={MUC5B_BOX_FRAC}
      />
      <BoxPanel
        left={378}
        axisWidth={66}
        domain={[-3.33, 3.32]}
        title="DSP"
        genotypes={DSP_GENOTYPES}
        low={DSP_LOW}
        q1={DSP_Q1}
        med={DSP_MEDIAN}
        q3={DSP_Q3}
        high={DSP_HIGH}
        outliers={DSP_OUTLIERS}
        frac={DSP_BOX_FRAC}
      />
      <MirrorPlot
        left={0}
        top={400}
        axisX={76}
        plotRight={362}
        topMax={20}
        bottomMax={300}
        gene="MUC5B"
        group="Controls"
        clpp="1.00"
        gwas={MUC5B_CTRL_GWAS}
        eqtl={MUC5B_CTRL_EQTL}
        lead={MUC5B_CTRL_LEAD}
      />
      <MirrorPlot
        left={378}
        top={400}
        axisX={92}
        plotRight={377}
        topMax={40}
        bottomMax={30}
        gene="DSP"
        group="Controls"
        clpp="1.00"
        gwas={DSP_CTRL_GWAS}
        eqtl={DSP_CTRL_EQTL}
        lead={DSP_CTRL_LEAD}
      />
      <MirrorPlot
        left={0}
        top={742}
        axisX={76}
        plotRight={362}
        topMax={10}
        bottomMax={300}
        gene="MUC5B"
        group="Cases"
        clpp="0.96"
        gwas={MUC5B_CASE_GWAS}
        eqtl={MUC5B_CASE_EQTL}
        lead={MUC5B_CASE_LEAD}
      />
      <MirrorPlot
        left={378}
        top={742}
        axisX={92}
        plotRight={377}
        topMax={10}
        bottomMax={30}
        gene="DSP"
        group="Cases"
        clpp="0.66"
        gwas={DSP_CASE_GWAS}
        eqtl={DSP_CASE_EQTL}
        lead={DSP_CASE_LEAD}
      />
    </div>
  );
}
